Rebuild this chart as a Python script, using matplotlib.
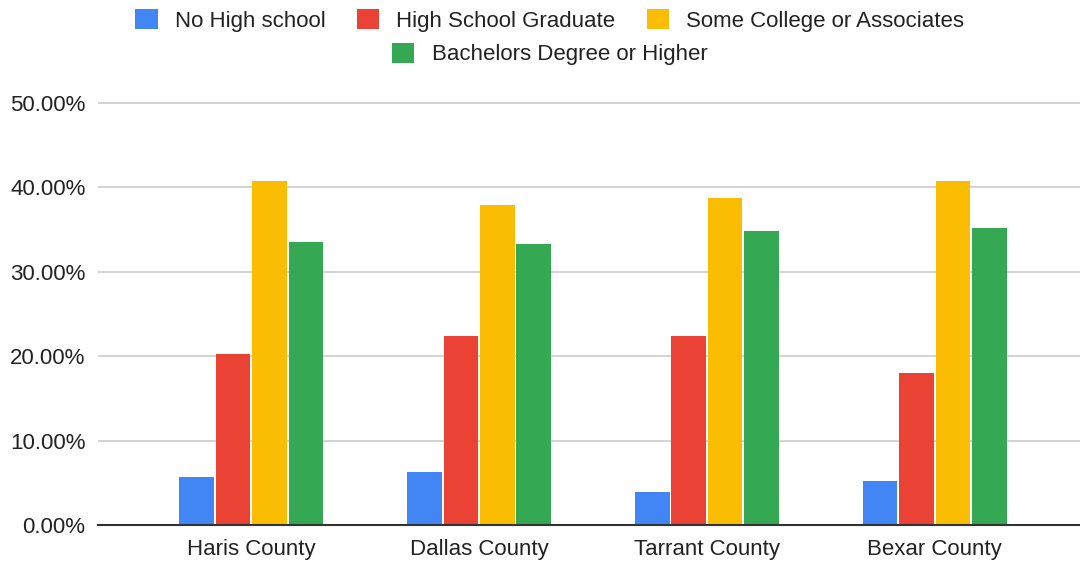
import numpy as np
import matplotlib.pyplot as plt
from matplotlib.ticker import FuncFormatter
from matplotlib.patches import Patch

plt.rcParams['font.family'] = ['Liberation Sans', 'DejaVu Sans']

COUNTIES = ['Haris County', 'Dallas County', 'Tarrant County', 'Bexar County']
SERIES = ['No High school', 'High School Graduate',
          'Some College or Associates', 'Bachelors Degree or Higher']
COLORS = ['#4285F4', '#EA4335', '#FBBC04', '#34A853']

no_high_school = [5.7, 6.3, 3.9, 5.2]
high_school_grad = [20.3, 22.4, 22.4, 18.0]
some_college = [40.8, 37.9, 38.7, 40.8]
bachelors = [33.5, 33.3, 34.8, 35.2]

values = [no_high_school, high_school_grad, some_college, bachelors]

fig = plt.figure(figsize=(10.8, 5.63), dpi=100)
ax = fig.add_axes([0.0907, 0.0675, 0.9093, 0.757])

x = np.arange(len(COUNTIES))
pitch = 0.160
width = 0.152
for i, (vals, col) in enumerate(zip(values, COLORS)):
    ax.bar(x + (i - 1.5) * pitch, vals, width=width, color=col, zorder=3)

ax.set_xlim(-0.673, 3.638)
ax.set_ylim(0, 50.5)
ax.set_yticks(np.arange(0, 51, 10))
ax.yaxis.set_major_formatter(FuncFormatter(lambda v, p: f"{v:.2f}%"))
ax.set_xticks(x)
ax.set_xticklabels(COUNTIES)

ax.grid(axis='y', color='#cccccc', linewidth=1.2, zorder=0)
for s in ['top', 'right', 'left']:
    ax.spines[s].set_visible(False)
ax.spines['bottom'].set_color('#333333')
ax.spines['bottom'].set_linewidth(1.5)
ax.spines['bottom'].set_zorder(4)
ax.tick_params(axis='y', length=0, pad=9, labelsize=16, labelcolor='#222222')
ax.tick_params(axis='x', length=0, pad=10, labelsize=16, labelcolor='#222222')

handles = [Patch(facecolor=c, edgecolor='none') for c in COLORS]
leg_kw = dict(frameon=False, fontsize=16, handlelength=1.0, handleheight=1.0,
              handletextpad=0.78, columnspacing=1.4, labelcolor='#222222',
              borderpad=0.2)
fig.legend(handles[:3], SERIES[:3], loc='center', ncol=3,
           bbox_to_anchor=(0.509, 0.9636), **leg_kw)
fig.legend(handles[3:], SERIES[3:], loc='center', ncol=1,
           bbox_to_anchor=(0.509, 0.904), **leg_kw)

fig.savefig('out.png', dpi=100)
